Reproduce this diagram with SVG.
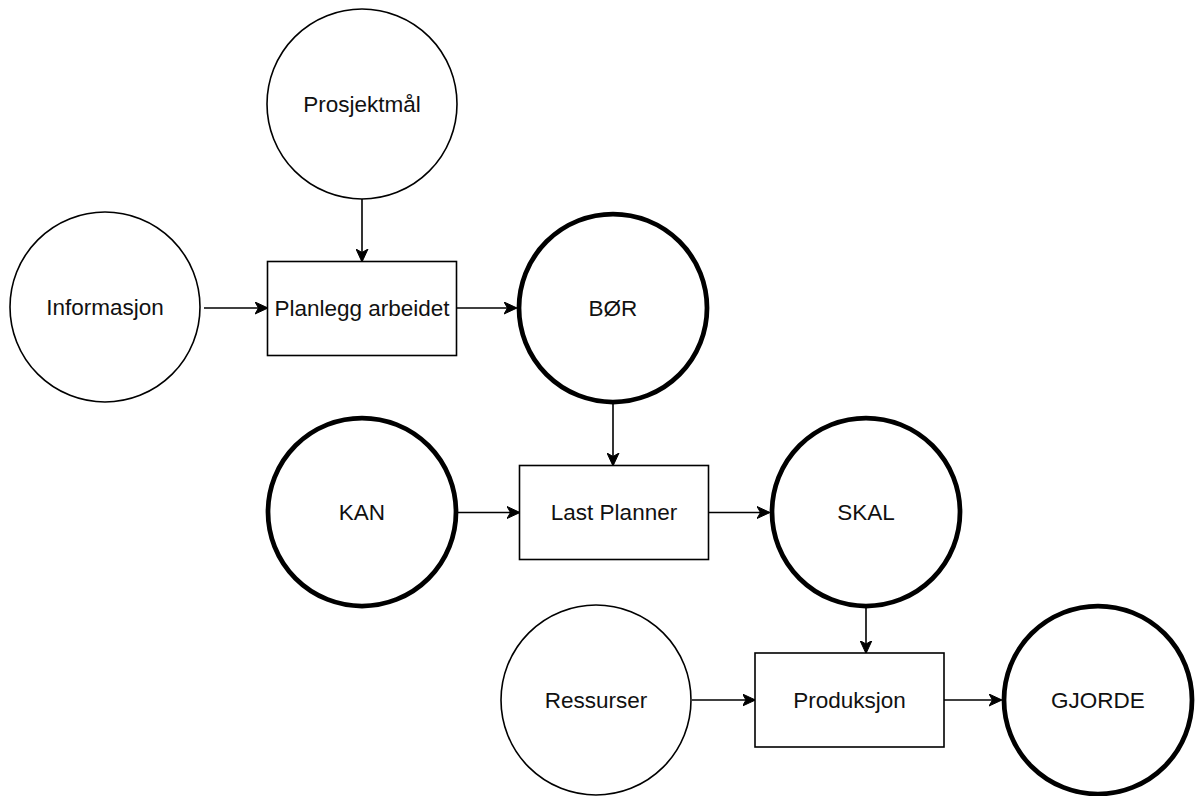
<svg xmlns="http://www.w3.org/2000/svg" width="1196" height="796" viewBox="0 0 1196 796">
<style>
.thin{fill:#fff;stroke:#000;stroke-width:1.6}
.thick{fill:#fff;stroke:#000;stroke-width:4.75}
.box{fill:#fff;stroke:#000;stroke-width:1.6}
.lbl{font-family:"Liberation Sans",Arial,sans-serif;font-size:22.5px;fill:#111;text-anchor:middle}
.edge{fill:none;stroke:#000;stroke-width:1.6;marker-end:url(#arr)}
</style>
<defs>
<marker id="arr" viewBox="0 0 13 13" refX="12" refY="6.5" markerWidth="13" markerHeight="13" markerUnits="userSpaceOnUse" orient="auto">
<path d="M0,0.5 L13,6.5 L0,12.5 L3.5,6.5 Z" fill="#000" stroke="#000" stroke-width="1"/>
</marker>
</defs>
<rect width="1196" height="796" fill="#fff"/>
<g id="connectors">
<line class="edge" x1="362" y1="199" x2="362" y2="261"/>
<line class="edge" x1="204" y1="308" x2="267" y2="308"/>
<line class="edge" x1="456.5" y1="308" x2="516" y2="308"/>
<line class="edge" x1="613" y1="404" x2="613" y2="465"/>
<line class="edge" x1="458" y1="512.5" x2="519" y2="512.5"/>
<line class="edge" x1="708.5" y1="512.5" x2="769" y2="512.5"/>
<line class="edge" x1="866" y1="608" x2="866" y2="652.5"/>
<line class="edge" x1="692" y1="700" x2="754.5" y2="700"/>
<line class="edge" x1="944" y1="700" x2="1001" y2="700"/>
</g>
<g id="prosjektmal"><circle class="thin" cx="362" cy="104" r="95"/><text class="lbl" x="362" y="112">Prosjektmål</text></g>
<g id="informasjon"><circle class="thin" cx="105" cy="307" r="95"/><text class="lbl" x="105" y="315">Informasjon</text></g>
<g id="planlegg"><rect class="box" x="267.5" y="261.5" width="189" height="94"/><text class="lbl" x="362" y="316">Planlegg arbeidet</text></g>
<g id="bor"><circle class="thick" cx="613" cy="308" r="94"/><text class="lbl" x="613" y="316">BØR</text></g>
<g id="kan"><circle class="thick" cx="362" cy="512" r="94"/><text class="lbl" x="362" y="520">KAN</text></g>
<g id="lastplanner"><rect class="box" x="519.5" y="465.5" width="189" height="94"/><text class="lbl" x="614" y="520">Last Planner</text></g>
<g id="skal"><circle class="thick" cx="866" cy="512" r="94"/><text class="lbl" x="866" y="520">SKAL</text></g>
<g id="ressurser"><circle class="thin" cx="596" cy="700" r="95"/><text class="lbl" x="596" y="708">Ressurser</text></g>
<g id="produksjon"><rect class="box" x="755" y="653" width="189" height="94"/><text class="lbl" x="849.5" y="708">Produksjon</text></g>
<g id="gjorde"><circle class="thick" cx="1098" cy="700" r="94"/><text class="lbl" x="1098" y="708">GJORDE</text></g>
</svg>
